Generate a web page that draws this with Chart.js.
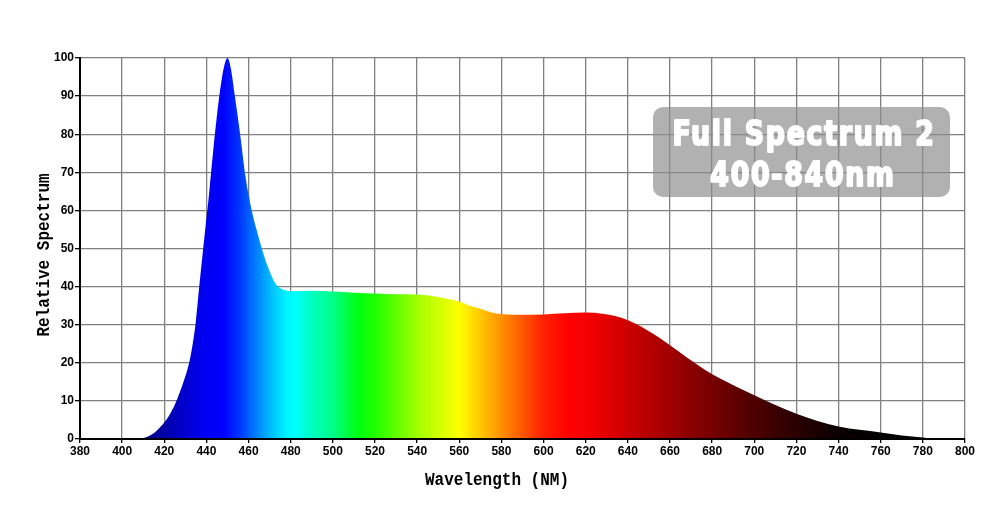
<!DOCTYPE html>
<html>
<head>
<title>Full Spectrum 2</title>
<script src="https://cdn.jsdelivr.net/npm/chart.js"></script>
<style>
  html, body { margin: 0; padding: 0; background: #fff; }
</style>
</head>
<body>
<canvas id="spec" width="1000" height="530"></canvas>
<script>
// wavelength (nm) and relative intensity
const wavelengths = [407.5, 412, 416, 420, 423, 426, 429, 432, 433.5, 435, 436.5, 438, 440, 441, 443, 445,
  447, 448.5, 450, 451.5, 453.5, 456, 458.5, 461.5, 464, 466, 468, 470, 472, 474, 476, 478, 480,
  490, 500, 510, 520, 530, 540, 550, 556, 560, 565, 570, 575, 580, 590, 600, 610, 620, 628, 634, 640,
  646, 652, 660, 668, 676, 684, 692, 700, 710, 720, 730, 740, 750, 760, 770, 780, 785];
const relative = [0, 0.6, 2, 4.3, 6.8, 10.3, 14.8, 20.5, 25, 31, 39.5, 47.5, 58, 63, 74.5, 85,
  93.5, 98, 100, 97.5, 90, 80, 69, 60, 54.5, 50.5, 47, 44, 41.5, 40, 39.3, 39, 38.8,
  38.9, 38.7, 38.4, 38.2, 38, 37.9, 37.3, 36.6, 36.1, 35, 34.2, 33.3, 32.8, 32.6, 32.7, 33, 33.2, 32.9, 32.3, 31.2,
  29.6, 27.6, 24.6, 21.4, 18.4, 15.8, 13.6, 11.5, 8.9, 6.6, 4.7, 3.3, 2.4, 1.7, 0.9, 0.4, 0];

const xTicks = [380, 400, 420, 440, 460, 480, 500, 520, 540, 560, 580, 600, 620, 640, 660, 680, 700, 720, 740, 760, 780, 800];
const yTicks = [0, 10, 20, 30, 40, 50, 60, 70, 80, 90, 100];

const badgeLines = ['Full Spectrum 2', '400-840nm'];
const xTitle = 'Wavelength (NM)';
const yTitle = 'Relative Spectrum';

// colour of the light at each wavelength
const colourStops = [
  [405, '#000070'], [420, '#0000a8'], [438, '#0000f0'], [448, '#0000ff'], [455, '#0030ff'],
  [462, '#0070ff'], [470, '#00b8ff'], [478, '#00f4ff'], [482, '#00ffff'], [490, '#00ffc0'],
  [500, '#00ff88'], [512, '#00ff10'], [520, '#20ff00'], [530, '#60ff00'], [540, '#a0ff00'],
  [550, '#d0ff00'], [560, '#ffff00'], [570, '#ffc800'], [580, '#ff9000'], [590, '#ff5800'],
  [600, '#ff2000'], [612, '#ff0000'], [625, '#ee0000'], [640, '#cc0000'], [660, '#a00000'],
  [680, '#760000'], [700, '#4e0000'], [720, '#2a0000'], [740, '#0c0000'], [760, '#000000']
];

function spectrumFill(context) {
  const chart = context.chart;
  const xs = chart.scales.x;
  if (!chart.chartArea || !xs) return '#0000ff';
  const x0 = xs.getPixelForValue(xTicks[0]);
  const x1 = xs.getPixelForValue(xTicks[xTicks.length - 1]);
  const g = chart.ctx.createLinearGradient(x0, 0, x1, 0);
  const span = xTicks[xTicks.length - 1] - xTicks[0];
  colourStops.forEach(([nm, c]) => g.addColorStop((nm - xTicks[0]) / span, c));
  return g;
}

const tickFont = { family: '"Liberation Sans", Arial, sans-serif', size: 12, weight: 'bold' };

const overlay = {
  id: 'overlay',
  afterDraw(chart) {
    const ctx = chart.ctx;
    ctx.save();

    // grey badge in the upper right
    ctx.fillStyle = 'rgba(140,140,140,0.68)';
    ctx.beginPath();
    ctx.roundRect(653, 107, 297, 90, 10);
    ctx.fill();

    ctx.fillStyle = '#fff';
    ctx.strokeStyle = '#fff';
    ctx.lineWidth = 2;
    ctx.lineJoin = 'round';
    ctx.textAlign = 'center';
    ctx.textBaseline = 'alphabetic';
    ctx.font = 'bold 34px "Liberation Sans Narrow", "DejaVu Sans Condensed", sans-serif';
    ctx.letterSpacing = '2px';
    const w = ctx.measureText(badgeLines[0]).width;
    const sx = 263 / w;
    [[badgeLines[0], 804, 145], [badgeLines[1], 803, 186]].forEach(([txt, x, y]) => {
      ctx.save();
      ctx.translate(x, y);
      ctx.scale(sx, 1);
      ctx.strokeText(txt, 0, 0);
      ctx.fillText(txt, 0, 0);
      ctx.restore();
    });

    // axis titles
    ctx.letterSpacing = '0px';
    ctx.fillStyle = '#000';
    ctx.font = 'bold 16px "Liberation Mono", "DejaVu Sans Mono", monospace';
    ctx.save();
    ctx.translate(497, 485);
    ctx.scale(1, 1.2);
    ctx.fillText(xTitle, 0, 0);
    ctx.restore();

    ctx.save();
    ctx.translate(49, 255);
    ctx.rotate(-Math.PI / 2);
    ctx.scale(1, 1.2);
    ctx.fillText(yTitle, 0, 0);
    ctx.restore();

    ctx.restore();
  }
};

new Chart(document.getElementById('spec').getContext('2d'), {
  type: 'line',
  data: {
    datasets: [{
      label: 'Relative Spectrum',
      data: wavelengths.map((nm, i) => ({ x: nm, y: relative[i] })),
      fill: 'origin',
      backgroundColor: spectrumFill,
      borderWidth: 0,
      pointRadius: 0,
      cubicInterpolationMode: 'monotone'
    }]
  },
  options: {
    responsive: false,
    animation: false,
    devicePixelRatio: 1,
    layout: { padding: { top: 58, right: 35, left: 0, bottom: 0 } },
    plugins: { legend: { display: false }, tooltip: { enabled: false } },
    scales: {
      x: {
        type: 'linear',
        min: 380,
        max: 800,
        afterBuildTicks: axis => { axis.ticks = xTicks.map(v => ({ value: v })); },
        afterFit: axis => { axis.height = 91; },
        grid: { color: '#808080', lineWidth: 1.3, tickLength: 4, tickColor: '#000' },
        border: { color: '#000', width: 2, z: 1 },
        ticks: { color: '#000', font: tickFont, padding: 1, maxRotation: 0, autoSkip: false }
      },
      y: {
        min: 0,
        max: 100,
        afterBuildTicks: axis => { axis.ticks = yTicks.map(v => ({ value: v })); },
        afterFit: axis => { axis.width = 80; },
        grid: { color: '#808080', lineWidth: 1.3, tickLength: 5, tickColor: '#000' },
        border: { color: '#000', width: 2, z: 1 },
        ticks: { color: '#000', font: tickFont, padding: 1 }
      }
    }
  },
  plugins: [overlay]
});
</script>
</body>
</html>
